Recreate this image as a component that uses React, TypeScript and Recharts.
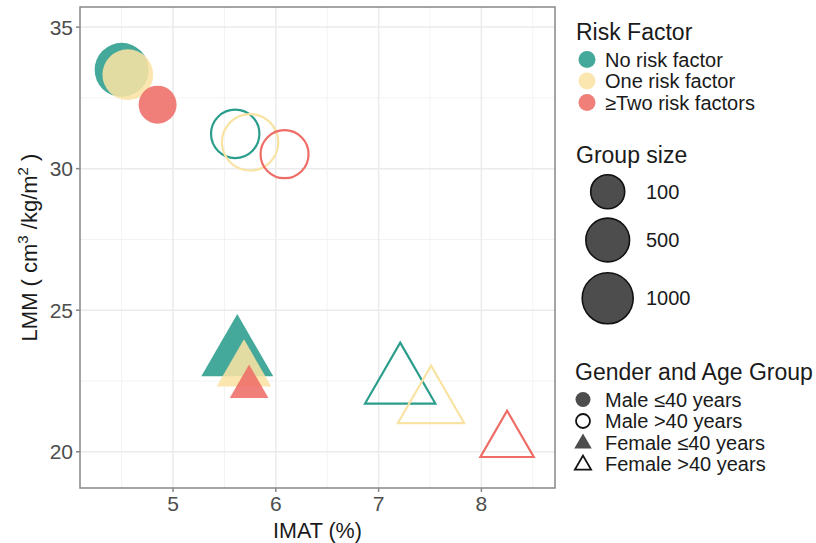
import { ScatterChart, Scatter, XAxis, YAxis, CartesianGrid, ReferenceArea, Label } from 'recharts';

const riskFactors = ['No risk factor', 'One risk factor', '≥Two risk factors'];
const riskColors = ['#2A9D8C', '#F9E3A3', '#EE6D66'];

// one array per gender/age group, ordered by risk factor
const maleYoungImat = [4.5, 4.56, 4.85];
const maleYoungLmm = [33.49, 33.32, 32.26];
const maleYoungN = [1255, 975, 228];

const maleOldImat = [5.605, 5.75, 6.085];
const maleOldLmm = [31.23, 30.93, 30.51];
const maleOldN = [953, 1683, 922];

const femaleYoungImat = [5.625, 5.69, 5.74];
const femaleYoungLmm = [23.4, 22.86, 22.29];
const femaleYoungN = [1203, 338, 11];

const femaleOldImat = [7.21, 7.51, 8.25];
const femaleOldLmm = [22.42, 21.69, 20.36];
const femaleOldN = [1274, 1016, 387];

const xTicks = [5, 6, 7, 8];
const yTicks = [20, 25, 30, 35];
const xMinor = [4.5, 5.5, 6.5, 7.5, 8.5];
const yMinor = [22.5, 27.5, 32.5];
const xDomain = [4.095, 8.716];
const yDomain = [18.72, 35.71];

const sizeLegend = [100, 500, 1000];
const genderGroups = ['Male ≤40 years', 'Male >40 years', 'Female ≤40 years', 'Female >40 years'];

const FONT = '"Liberation Sans", Arial, Helvetica, sans-serif';

const radius = (n: number) => 13.07 + 0.393 * Math.sqrt(n);

const build = (imat: number[], lmm: number[], n: number[]) =>
    imat.map((x, i) => ({ imat: x, lmm: lmm[i], n: n[i], risk: i }));

const triPath = (cx: number, cy: number, R: number) => {
    const top = 1.555 * R;
    const half = 1.347 * R;
    const base = 0.778 * R;
    return `M${cx},${cy - top} L${cx + half},${cy + base} L${cx - half},${cy + base} Z`;
};

const makeShape = (kind: 'circle' | 'triangle', filled: boolean) => (props: any) => {
    const { cx, cy, payload } = props;
    const color = riskColors[payload.risk];
    const R = radius(payload.n);
    if (kind === 'circle') {
        return filled
            ? <circle cx={cx} cy={cy} r={R} fill={color} fillOpacity={0.88} />
            : <circle cx={cx} cy={cy} r={R - 1} fill="none" stroke={color} strokeWidth={2.2} />;
    }
    return filled
        ? <path d={triPath(cx, cy, R)} fill={color} fillOpacity={0.88} />
        : <path d={triPath(cx, cy, R - 1)} fill="none" stroke={color} strokeWidth={2.2} strokeLinejoin="miter" />;
};

const YLabel = ({ viewBox }: any) => {
    const cx = 37;
    const cy = viewBox.y + viewBox.height / 2;
    return (
        <text x={cx} y={cy} transform={`rotate(-90 ${cx} ${cy})`} textAnchor="middle" fontSize={22} fill="#1a1a1a" fontFamily={FONT}>
            <tspan>LMM ( cm</tspan>
            <tspan dy={-9} fontSize={15}>3</tspan>
            <tspan dy={9}> /kg/m</tspan>
            <tspan dy={-9} fontSize={15}>2</tspan>
            <tspan dy={9}> )</tspan>
        </text>
    );
};

function Legends() {
    const legendText = { fontSize: 20, fill: '#1a1a1a', fontFamily: FONT };
    const titleText = { fontSize: 23, fill: '#1a1a1a', fontFamily: FONT };
    return (
        <svg width={816} height={543} style={{ position: 'absolute', left: 0, top: 0, pointerEvents: 'none' }}>
            <text x={576} y={40} {...titleText}>Risk Factor</text>
            {riskFactors.map((r, i) => (
                <g key={r}>
                    <circle cx={587} cy={59.5 + i * 21.5} r={8.5} fill={riskColors[i]} fillOpacity={0.88} />
                    <text x={605} y={66.5 + i * 21.5} {...legendText}>{r}</text>
                </g>
            ))}

            <text x={576} y={163} {...titleText}>Group size</text>
            {sizeLegend.map((s, i) => {
                const cy = [191.7, 240, 298.3][i];
                return (
                    <g key={s}>
                        <circle cx={607.7} cy={cy} r={radius(s)} fill="#4d4d4d" stroke="#111" strokeWidth={1.6} />
                        <text x={646} y={cy + 7} {...legendText}>{s}</text>
                    </g>
                );
            })}

            <text x={575} y={379.5} {...titleText}>Gender and Age Group</text>
            {genderGroups.map((g, i) => {
                const cy = 399.5 + i * 21.5;
                const cx = 583;
                let sym;
                if (i === 0) sym = <circle cx={cx} cy={cy} r={7.5} fill="#4d4d4d" />;
                else if (i === 1) sym = <circle cx={cx} cy={cy} r={7} fill="none" stroke="#111" strokeWidth={1.8} />;
                else if (i === 2) sym = <path d={triPath(cx, cy + 1, 6.5)} fill="#4d4d4d" />;
                else sym = <path d={triPath(cx, cy + 1, 6)} fill="none" stroke="#111" strokeWidth={1.8} />;
                return (
                    <g key={g}>
                        {sym}
                        <text x={605} y={cy + 7} {...legendText}>{g}</text>
                    </g>
                );
            })}
        </svg>
    );
}

export default function App() {
    const tickStyle = { fontSize: 21, fill: '#4d4d4d', fontFamily: FONT };
    return (
        <div style={{ position: 'absolute', left: 0, top: 0, width: 816, height: 543, background: '#fff' }}>
            <ScatterChart width={816} height={543} margin={{ top: 7, right: 261, bottom: 0, left: 0 }}>
                <CartesianGrid verticalValues={xMinor} horizontalValues={yMinor} stroke="#F3F3F3" strokeWidth={1} />
                <CartesianGrid verticalValues={xTicks} horizontalValues={yTicks} stroke="#EBEBEB" strokeWidth={1.5} />
                <XAxis
                    type="number"
                    dataKey="imat"
                    domain={xDomain}
                    ticks={xTicks}
                    allowDataOverflow
                    height={55}
                    axisLine={false}
                    tickSize={4}
                    tickMargin={4}
                    tickLine={{ stroke: '#888', strokeWidth: 1.5 }}
                    tick={tickStyle}
                >
                    <Label value="IMAT (%)" position="insideBottom" offset={5} fontSize={21.5} fill="#1a1a1a" fontFamily={FONT} />
                </XAxis>
                <YAxis
                    type="number"
                    dataKey="lmm"
                    domain={yDomain}
                    ticks={yTicks}
                    allowDataOverflow
                    width={80}
                    axisLine={false}
                    tickSize={4}
                    tickMargin={3}
                    tickLine={{ stroke: '#888', strokeWidth: 1.5 }}
                    tick={tickStyle}
                    label={<YLabel />}
                />
                <ReferenceArea x1={xDomain[0]} x2={xDomain[1]} y1={yDomain[0]} y2={yDomain[1]} fill="none" stroke="#888" strokeWidth={1.5} />
                <Scatter data={build(maleYoungImat, maleYoungLmm, maleYoungN)} shape={makeShape('circle', true)} isAnimationActive={false} />
                <Scatter data={build(maleOldImat, maleOldLmm, maleOldN)} shape={makeShape('circle', false)} isAnimationActive={false} />
                <Scatter data={build(femaleYoungImat, femaleYoungLmm, femaleYoungN)} shape={makeShape('triangle', true)} isAnimationActive={false} />
                <Scatter data={build(femaleOldImat, femaleOldLmm, femaleOldN)} shape={makeShape('triangle', false)} isAnimationActive={false} />
            </ScatterChart>
            <Legends />
        </div>
    );
}
